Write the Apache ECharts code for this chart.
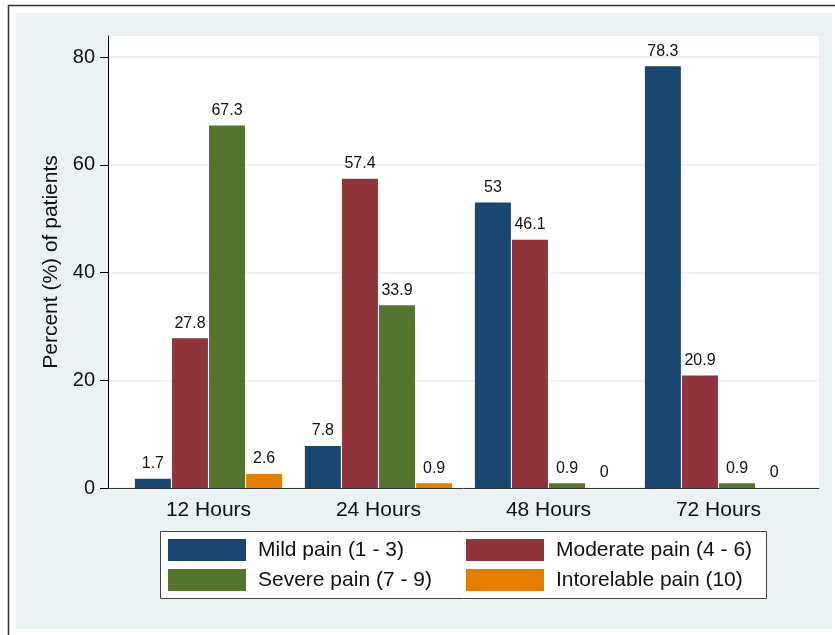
<!DOCTYPE html>
<html>
<head>
<meta charset="utf-8">
<script src="https://cdn.jsdelivr.net/npm/echarts@6/dist/echarts.min.js"></script>
<style>
html,body{margin:0;padding:0;background:#fff;}
#chart{width:835px;height:635px;}
</style>
</head>
<body>
<div id="chart"></div>
<script>
const categories = ['12 Hours', '24 Hours', '48 Hours', '72 Hours'];
const seriesNames = ['Mild pain (1 - 3)', 'Moderate pain (4 - 6)', 'Severe pain (7 - 9)', 'Intorelable pain (10)'];
const mild = [1.7, 7.8, 53, 78.3];
const moderate = [27.8, 57.4, 46.1, 20.9];
const severe = [67.3, 33.9, 0.9, 0.9];
const intolerable = [2.6, 0.9, 0, 0];
const yTicks = [0, 20, 40, 60, 80];
const yTitle = 'Percent (%) of patients';

const colors = ['#1a476f', '#90353b', '#55752f', '#e37e00'];
const FONT = '"Liberation Sans", Arial, Helvetica, sans-serif';
const YMAX = 83.9;

const chart = echarts.init(document.getElementById('chart'), null, {renderer: 'canvas'});

const values = [mild, moderate, severe, intolerable];
const series = values.map((arr, i) => ({
  name: seriesNames[i],
  type: 'bar',
  xAxisIndex: 1,
  yAxisIndex: 1,
  data: arr,
  barWidth: 36,
  barGap: '3%',
  itemStyle: {color: colors[i]},
  label: {
    show: true,
    position: 'top',
    distance: 7,
    fontSize: 16,
    fontFamily: FONT,
    color: '#111'
  }
}));

const option = {
  backgroundColor: '#ffffff',
  animation: false,
  color: colors,
  textStyle: {fontFamily: FONT},
  graphic: [
    {type: 'rect', z: -10, shape: {x: 8.5, y: 5.5, width: 900, height: 700},
     style: {fill: '#ffffff', stroke: '#333333', lineWidth: 1.5}},
    {type: 'rect', z: -9, shape: {x: 16, y: 13, width: 816, height: 616},
     style: {fill: '#eaf2f3'}},
    {type: 'rect', z: 1, shape: {x: 160.5, y: 531.5, width: 606, height: 67},
     style: {fill: '#ffffff', stroke: '#444444', lineWidth: 1}}
  ],
  grid: [
    {left: 108, right: 16, top: 36, bottom: 147, show: true, backgroundColor: '#ffffff', borderWidth: 0, z: 0},
    {left: 123.5, width: 680, top: 36, bottom: 147, show: false}
  ],
  legend: [
    {orient: 'vertical', left: 168, top: 539, padding: 0, itemGap: 8, itemWidth: 78, itemHeight: 22,
     icon: 'rect', data: [seriesNames[0], seriesNames[2]], z: 5,
     textStyle: {fontSize: 21, color: '#111', fontFamily: FONT, padding: [4, 0, 0, 7]}},
    {orient: 'vertical', left: 466, top: 539, padding: 0, itemGap: 8, itemWidth: 78, itemHeight: 22,
     icon: 'rect', data: [seriesNames[1], seriesNames[3]], z: 5,
     textStyle: {fontSize: 21, color: '#111', fontFamily: FONT, padding: [4, 0, 0, 7]}}
  ],
  xAxis: [
    {type: 'value', gridIndex: 0, min: 0, max: 1, position: 'bottom',
     axisLine: {show: true, onZero: false, lineStyle: {color: '#333', width: 1}},
     axisTick: {show: false}, axisLabel: {show: false}, splitLine: {show: false}},
    {type: 'category', gridIndex: 1, data: categories, position: 'bottom',
     axisLine: {show: false}, axisTick: {show: false},
     axisLabel: {show: true, margin: 12, fontSize: 21, color: '#111', fontFamily: FONT},
     splitLine: {show: false}}
  ],
  yAxis: [
    {type: 'value', gridIndex: 0, min: 0, max: YMAX, interval: 20,
     name: yTitle, nameLocation: 'middle', nameGap: 44, nameRotate: 90,
     nameTextStyle: {fontSize: 21, color: '#111', fontFamily: FONT},
     axisLine: {show: true, lineStyle: {color: '#000', width: 1}},
     axisTick: {show: true, length: 8, customValues: yTicks, lineStyle: {color: '#000', width: 1}},
     axisLabel: {show: true, margin: 13, fontSize: 20, color: '#111', fontFamily: FONT, customValues: yTicks,
                 formatter: v => (yTicks.indexOf(v) >= 0 ? String(v) : '')},
     splitLine: {show: true, lineStyle: {color: '#eaf2f3', width: 1.5}}},
    {type: 'value', gridIndex: 1, min: 0, max: YMAX, show: false, splitLine: {show: false}}
  ],
  series: series
};

chart.setOption(option);
</script>
</body>
</html>
